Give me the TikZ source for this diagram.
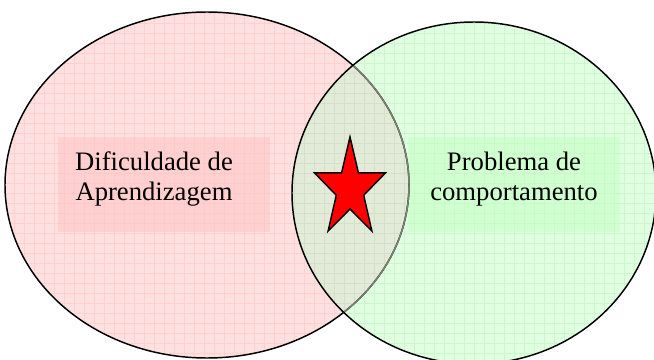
\documentclass[tikz,border=0pt]{standalone}
\usepackage{fontspec}
\setmainfont{Liberation Serif}
\usepackage{tikz}
\definecolor{vennpink}{RGB}{255,224,224}
\definecolor{vennpinkgrid}{RGB}{255,208,208}
\definecolor{vennpinkbox}{RGB}{255,196,196}
\definecolor{venngreen}{RGB}{224,255,224}
\definecolor{venngreengrid}{RGB}{204,246,204}
\definecolor{venngreenbox}{RGB}{196,255,196}
\definecolor{vennmix}{RGB}{226,234,216}
\definecolor{vennmixgrid}{RGB}{212,224,200}
\definecolor{vennstar}{RGB}{255,0,0}

\begin{document}
\begin{tikzpicture}[x=0.75pt, y=-0.75pt,
    rim/.style={line width=1.1pt, black},
    gridline/.style={line width=0.6pt},
    textbox/.style={minimum width=159pt, minimum height=71pt, inner sep=0pt, fill opacity=0.55},
    vennlabel/.style={font=\fontsize{20}{22.5}\selectfont, align=center}]
        \useasboundingbox (0,0) rectangle (654,360);
        \clip (0,0) rectangle (654,360);
        \coordinate (lc) at (207,185);
        \coordinate (rc) at (474,193);

        % Left circle (pink)
        \fill[vennpink] (lc) ellipse [x radius=202, y radius=173];
        \begin{scope}
            \clip (lc) ellipse [x radius=202, y radius=173];
            \foreach \gx in {4,14,...,654} \draw[gridline, vennpinkgrid] (\gx,0) -- (\gx,360);
            \foreach \gy in {3,13,...,363} \draw[gridline, vennpinkgrid] (0,\gy) -- (654,\gy);
        \end{scope}

        % Right circle (green)
        \fill[venngreen] (rc) ellipse [x radius=182, y radius=171];
        \begin{scope}
            \clip (rc) ellipse [x radius=182, y radius=171];
            \foreach \gx in {4,14,...,654} \draw[gridline, venngreengrid] (\gx,0) -- (\gx,360);
            \foreach \gy in {3,13,...,363} \draw[gridline, venngreengrid] (0,\gy) -- (654,\gy);
        \end{scope}

        % Overlap
        \begin{scope}
            \clip (lc) ellipse [x radius=202, y radius=173];
            \clip (rc) ellipse [x radius=182, y radius=171];
            \fill[vennmix] (280,0) rectangle (420,360);
            \foreach \gx in {284,294,...,414} \draw[gridline, vennmixgrid] (\gx,0) -- (\gx,360);
            \foreach \gy in {3,13,...,363} \draw[gridline, vennmixgrid] (280,\gy) -- (420,\gy);
        \end{scope}

        % Label boxes
        \node[textbox, fill=vennpinkbox] (leftbox) at (164,184.5) {};
        \node[textbox, fill=venngreenbox] (rightbox) at (514,184.5) {};
        \node[vennlabel] (leftlabel) at (154,179) {Dificuldade de\\Aprendizagem};
        \node[vennlabel] (rightlabel) at (514,179) {Problema de\\comportamento};

        % Outlines
        \draw[rim] (lc) ellipse [x radius=202, y radius=173];
        \begin{scope}
            \clip (rc) ellipse [x radius=182, y radius=171];
            \draw[rim, black!45!vennmix] (lc) ellipse [x radius=202, y radius=173];
        \end{scope}
        \draw[rim] (rc) ellipse [x radius=182, y radius=171];

        % Star
        \draw[rim, fill=vennstar] (350,137) -- (358.4,172.8) -- (385.5,172.9) -- (363.7,195.2)
            -- (371.9,231.1) -- (350,209) -- (328.1,231.1) -- (336.3,195.2)
            -- (314.5,172.9) -- (341.6,172.8) -- cycle;
    \end{tikzpicture}
\end{document}
